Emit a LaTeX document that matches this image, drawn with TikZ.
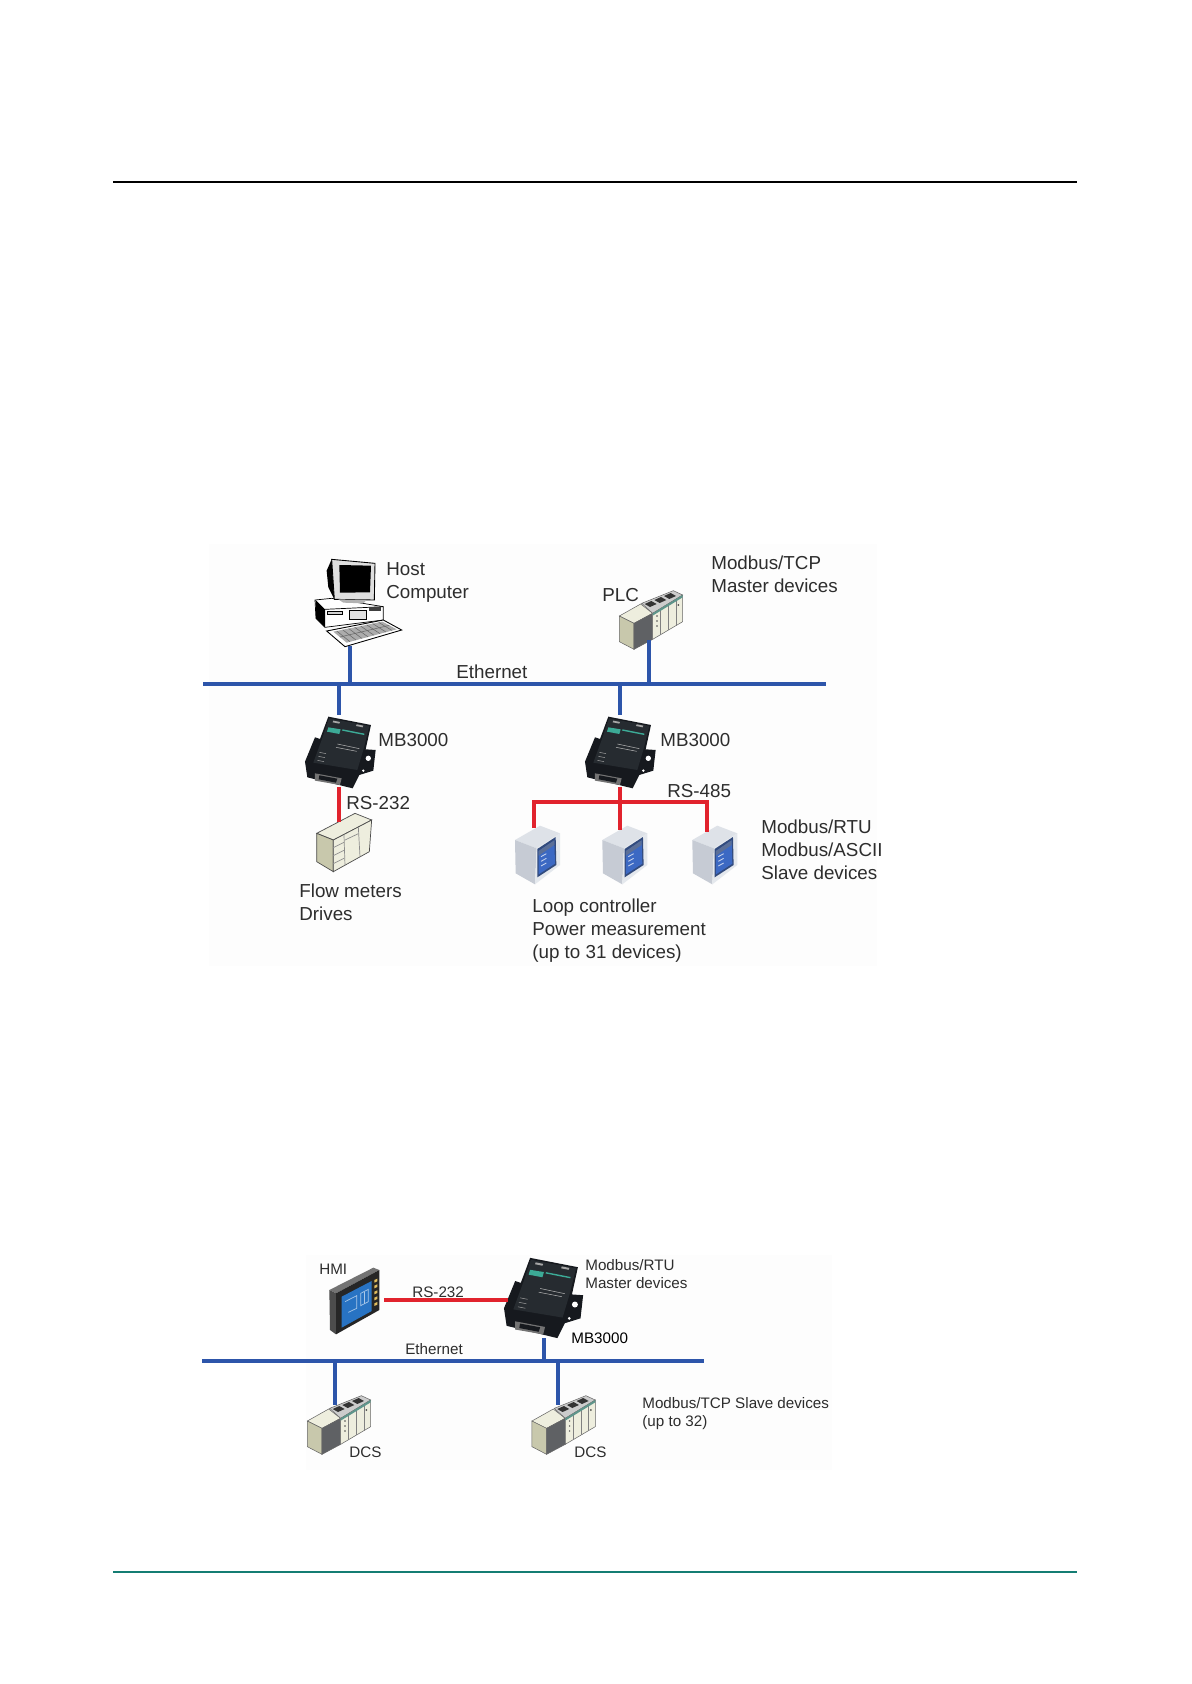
\documentclass[tikz,border=0pt]{standalone}
\usepackage{fontspec}
\setmainfont{Liberation Sans}
\usepackage{tikz}

\definecolor{ethblue}{RGB}{45,85,170}
\definecolor{serialred}{RGB}{225,35,45}
\definecolor{tealrule}{RGB}{20,125,115}
\definecolor{labelgray}{RGB}{45,45,45}
\definecolor{panelback}{RGB}{253,253,253}
\definecolor{gwdark}{RGB}{22,25,30}
\definecolor{gwtop}{RGB}{38,43,48}
\definecolor{gwgreen}{RGB}{60,170,150}
\definecolor{beigeA}{RGB}{200,200,172}
\definecolor{beigeB}{RGB}{238,238,222}
\definecolor{caseA}{RGB}{222,226,232}
\definecolor{caseB}{RGB}{198,203,212}
\definecolor{screenA}{RGB}{50,75,125}
\definecolor{screenB}{RGB}{60,105,195}
\definecolor{hmiblue}{RGB}{40,115,195}
\definecolor{hmibutton}{RGB}{225,190,95}
\definecolor{plcdark}{RGB}{95,97,100}

\tikzset{
	%Gateway, Koordinaten wie Ausschnitt 3x
	gateway/.pic={
		\fill[gwdark] (385,530) -- (513,555) -- (497,628) -- (527,630) -- (520,692) -- (478,705) -- (458,745) -- (322,712) -- (315,665) -- (345,592) -- (360,597) -- cycle;
		\fill[gwtop] (387,535) -- (508,558) -- (490,630) -- (472,690) -- (340,668) -- (365,600) -- cycle;
		\fill[gwgreen] (385,562) -- (422,568) -- (418,582) -- (381,575) -- cycle;
		\draw[gwgreen, line width=0.8pt] (427,570) -- (493,583);
		\fill[gray!70] (400,542) -- (420,546) -- (418,551) -- (398,547) -- cycle;
		\fill[gray!70] (470,553) -- (490,557) -- (488,562) -- (468,558) -- cycle;
		\draw[gray!60, line width=0.3pt] (412,612) -- (478,626);
		\draw[gray!60, line width=0.3pt] (408,622) -- (470,634);
		\foreach \ly in {0,1,2}
			\draw[gray!80, line width=0.3pt] ({358-3*\ly},{637+12*\ly}) -- ++(20,4);
		\fill[black!55] (345,700) -- (425,715) -- (420,735) -- (345,722) -- cycle;
		\fill[gwdark] (358,706) -- (412,716) -- (408,728) -- (356,718) -- cycle;
		\fill[white] (505,655) circle (8);
		\fill[white] (490,692) circle (4);
	},
	%Rechner
	computer/.pic={
		\draw[black, fill=white, line width=0.4pt] (60,150) -- (110,145) -- (265,170) -- (265,210) -- (90,232) -- (63,205) -- cycle;
		\fill[black] (62,150) -- (90,178) -- (90,232) -- (63,205) -- cycle;
		\draw[black, line width=0.4pt] (90,178) -- (265,170);
		\draw[black, fill=gray!35, line width=0.3pt] (97,183) rectangle (143,193);
		\draw[black, fill=gray!25, line width=0.3pt] (163,180) rectangle (215,207);
		\fill[black!75] (222,172) rectangle (258,183);
		\fill[black] (95,62) -- (110,28) -- (118,148) -- (100,112) -- cycle;
		\draw[black, fill=gray!25, line width=0.5pt] (110,28) -- (240,40) -- (238,150) -- (118,148) -- cycle;
		\fill[black] (133,45) -- (228,47) -- (225,127) -- (135,128) -- cycle;
		\fill[gray!60] (130,148) -- (215,150) -- (205,160) -- (145,158) -- cycle;
		\draw[black, fill=white, line width=0.5pt] (95,243) -- (265,210) -- (320,240) -- (150,290) -- cycle;
		\fill[gray!65] (115,245) -- (262,215) -- (305,238) -- (155,278) -- cycle;
		\foreach \kx in {0,...,7}
			\draw[black!60, line width=0.3pt] ({125+18*\kx},{243-3.7*\kx}) -- ({165+18*\kx},{275-4.8*\kx});
		\draw[black!60, line width=0.3pt] (135,261) -- (283,226);
	},
	%Zaehler
	meterbox/.pic={
		\draw[black!70, fill=beigeB, line width=0.4pt] (50,85) -- (165,25) -- (215,45) -- (100,105) -- cycle;
		\draw[black!70, fill=beigeA, line width=0.4pt] (50,85) -- (100,105) -- (100,200) -- (50,170) -- cycle;
		\draw[black!70, fill=beigeB, line width=0.4pt] (100,105) -- (215,45) -- (208,140) -- (100,200) -- cycle;
		\draw[black!45, line width=0.4pt] (132,90) -- (135,182);
		\draw[black!45, line width=0.4pt] (175,66) -- (180,155);
		\draw[black!45, line width=0.4pt] (100,128) -- (132,112);
		\draw[black!45, line width=0.4pt] (100,152) -- (132,136);
		\draw[black!45, line width=0.4pt] (100,176) -- (132,160);
		\draw[black!45, line width=0.4pt] (135,105) -- (175,86);
	},
	%Feldgeraet
	fieldbox/.pic={
		\fill[caseA] (30,75) -- (105,32) -- (165,55) -- (95,100) -- cycle;
		\fill[caseB] (30,75) -- (95,100) -- (90,208) -- (32,175) -- cycle;
		\fill[caseA!80!white] (95,100) -- (165,55) -- (165,150) -- (90,208) -- cycle;
		\fill[screenA] (97,102) -- (152,66) -- (154,150) -- (97,187) -- cycle;
		\fill[screenB] (101,108) -- (148,76) -- (150,146) -- (101,178) -- cycle;
		\fill[screenA!80!white] (101,108) -- (148,76) -- (148,90) -- (101,122) -- cycle;
		\foreach \ly in {0,1,2}
			\draw[white!70!screenB, line width=0.5pt] (108,{125+14*\ly}) -- ++(16,-9);
	},
	%PLC
	rackbox/.pic={
		\draw[black!60, fill=beigeB, line width=0.3pt] (28,108) -- (92,72) -- (128,100) -- (72,130) -- cycle;
		\draw[black!60, fill=beigeA, line width=0.3pt] (28,108) -- (72,130) -- (72,208) -- (28,185) -- cycle;
		\draw[black!60, fill=plcdark, line width=0.3pt] (72,130) -- (128,100) -- (128,178) -- (72,208) -- cycle;
		\draw[black!60, fill=gray!40, line width=0.3pt] (95,70) -- (190,32) -- (218,45) -- (128,100) -- cycle;
		\draw[black!60, fill=beigeB, line width=0.3pt] (128,100) -- (218,45) -- (218,125) -- (128,178) -- cycle;
		\foreach \mx/\my in {104/72,133/60,162/48}
			\fill[black!80] (\mx,\my) -- ++(20,-9) -- ++(16,9) -- ++(-20,9) -- cycle;
		\foreach \sx/\sy/\ey in {152/86/164,175/72/150,198/58/137}
			\draw[black!50, line width=0.4pt] (\sx,\sy) -- (\sx,\ey);
		\fill[gwgreen!50!gray] (128,100) -- (218,45) -- (218,52) -- (128,107) -- cycle;
		\foreach \ly in {108,123,138}
			\fill[black!70] (141,\ly) circle (2.5);
		\fill[black!70] (205,75) circle (3);
	},
	%HMI
	hmipanel/.pic={
		\fill[black!55] (28,105) -- (160,38) -- (178,45) -- (48,115) -- cycle;
		\fill[black!70] (28,105) -- (48,115) -- (48,238) -- (30,225) -- cycle;
		\fill[black!85] (48,115) -- (178,45) -- (178,165) -- (48,238) -- cycle;
		\fill[hmiblue] (65,125) -- (155,78) -- (155,168) -- (65,218) -- cycle;
		\foreach \by in {75,92,110,128,145}
			\fill[hmibutton] (163,\by) -- ++(9,-4) -- ++(0,8) -- ++(-9,4) -- cycle;
		\draw[white!60!hmiblue, line width=0.4pt] (75,140) -- (110,122) -- (110,160) -- (85,172);
		\draw[white!60!hmiblue, line width=0.4pt] (122,115) -- (145,103) -- (145,140) -- (122,152) -- cycle;
		\draw[white!60!hmiblue, line width=0.4pt] (133,110) -- (133,146);
	}
}

\begin{document}
\begin{tikzpicture}
		[
		x=0.02cm, y=-0.02cm,
		biglabel/.style={anchor=base west, inner sep=0pt, text=labelgray, align=left, font=\fontsize{10.7pt}{12.85pt}\selectfont},
		smalllabel/.style={anchor=base west, inner sep=0pt, text=labelgray, align=left, font=\fontsize{8.65pt}{10.2pt}\selectfont},
		ethbig/.style={ethblue, line width=2pt},
		ethsmall/.style={ethblue, line width=1.8pt},
		serialbig/.style={serialred, line width=2.1pt},
		serialsmall/.style={serialred, line width=1.8pt},
		devscale/.style={scale=0.3333}
		]
		
		%Seite
		\useasboundingbox (0,0) rectangle (1191,1684);
		\fill[white] (0,0) rectangle (1191,1684);
		\fill[panelback] (209,544) rectangle (877,966);
		\fill[panelback] (306,1255) rectangle (832,1470);
		
		%Linien oben und unten
		\coordinate (headL) at (113,182);
		\coordinate (headR) at (1077,182);
		\coordinate (footL) at (113,1572);
		\coordinate (footR) at (1077,1572);
		\draw[black, line width=1.1pt] (headL) -- (headR);
		\draw[tealrule, line width=1.1pt] (footL) -- (footR);
		
		%Geraete oben
		\pic (pc) [devscale] at (295,550) {computer};
		\pic (plcTop) [devscale] at (610,580) {rackbox};
		\pic (gwLeft) [devscale] at (200,540) {gateway};
		\pic (gwRight) [devscale] at (480,540) {gateway};
		\pic (flow) [devscale] at (300,805) {meterbox};
		\pic (loopA) [devscale] at (505,815) {fieldbox};
		\pic (loopB) [devscale] at (592.3,815) {fieldbox};
		\pic (loopC) [devscale] at (682.3,815) {fieldbox};
		
		%Anschlusspunkte oben
		\coordinate (busL) at (203,684);
		\coordinate (busR) at (826,684);
		\coordinate (pcPort) at (350,646);
		\coordinate (plcPort) at (649,640);
		\coordinate (gwLeftIn) at (339,715);
		\coordinate (gwRightIn) at (620,715);
		\coordinate (gwLeftOut) at (339,787);
		\coordinate (gwRightOut) at (620,787);
		\coordinate (flowPort) at (339,822);
		\coordinate (loopAPort) at (534,828);
		\coordinate (loopBPort) at (620,830);
		\coordinate (loopCPort) at (707,832);
		\coordinate (trunk) at (620,802);
		
		%Ethernet oben
		\draw[ethbig] (busL) -- (busR);
		\draw[ethbig] (pcPort) -- (pcPort |- busL);
		\draw[ethbig] (plcPort) -- (plcPort |- busL);
		\draw[ethbig] (gwLeftIn |- busL) -- (gwLeftIn);
		\draw[ethbig] (gwRightIn |- busL) -- (gwRightIn);
		
		%Seriell oben
		\draw[serialbig] (gwLeftOut) -- (flowPort);
		\draw[serialbig] (gwRightOut) -- (loopBPort);
		\draw[serialbig] (loopAPort) -- (loopAPort |- trunk) -- (loopCPort |- trunk) -- (loopCPort);
		
		%Texte oben
		\node[biglabel] (lblHost) at (386,598) {Host\\Computer};
		\node[biglabel] (lblEthTop) at (456,678) {Ethernet};
		\node[biglabel] (lblPlc) at (602,601) {PLC};
		\node[biglabel] (lblMaster) at (711,592) {Modbus/TCP\\Master devices};
		\node[biglabel] (lblGwLeft) at (378,746) {MB3000};
		\node[biglabel] (lblGwRight) at (660,746) {MB3000};
		\node[biglabel] (lblRs232) at (346,809) {RS-232};
		\node[biglabel] (lblRs485) at (667,797) {RS-485};
		\node[biglabel] (lblFlow) at (299,920) {Flow meters\\Drives};
		\node[biglabel] (lblSlave) at (761,879) {Modbus/RTU\\Modbus/ASCII\\Slave devices};
		\node[biglabel] (lblLoop) at (532,958) {Loop controller\\Power measurement\\(up to 31 devices)};
		
		%Geraete unten
		\pic (hmi) [devscale] at (320,1255) {hmipanel};
		\pic (gwLow) [scale=0.3733] at (386.4,1060) {gateway};
		\pic (dcsA) [devscale] at (298,1385) {rackbox};
		\pic (dcsB) [devscale] at (522.6,1385) {rackbox};
		
		%Anschlusspunkte unten
		\coordinate (lowL) at (202,1361);
		\coordinate (lowR) at (704,1361);
		\coordinate (hmiPort) at (384,1300);
		\coordinate (gwLowIn) at (508,1300);
		\coordinate (gwLowOut) at (544,1338);
		\coordinate (dcsAPort) at (335,1405);
		\coordinate (dcsBPort) at (558,1405);
		
		%Leitungen unten
		\draw[ethsmall] (lowL) -- (lowR);
		\draw[ethsmall] (gwLowOut) -- (gwLowOut |- lowL);
		\draw[ethsmall] (dcsAPort |- lowL) -- (dcsAPort);
		\draw[ethsmall] (dcsBPort |- lowL) -- (dcsBPort);
		\draw[serialsmall] (hmiPort) -- (gwLowIn);
		
		%Texte unten
		\node[smalllabel] (lblHmi) at (319,1274) {HMI};
		\node[smalllabel] (lblRsLow) at (412,1297) {RS-232};
		\node[smalllabel] (lblRtu) at (585,1288) {Modbus/RTU\\Master devices};
		\node[smalllabel, text=black] (lblGwLow) at (571,1343) {MB3000};
		\node[smalllabel] (lblEthLow) at (405,1354) {Ethernet};
		\node[smalllabel] (lblTcp) at (642,1426) {Modbus/TCP Slave devices\\(up to 32)};
		\node[smalllabel] (lblDcsA) at (349,1457) {DCS};
		\node[smalllabel] (lblDcsB) at (574,1457) {DCS};
		
	\end{tikzpicture}
\end{document}
